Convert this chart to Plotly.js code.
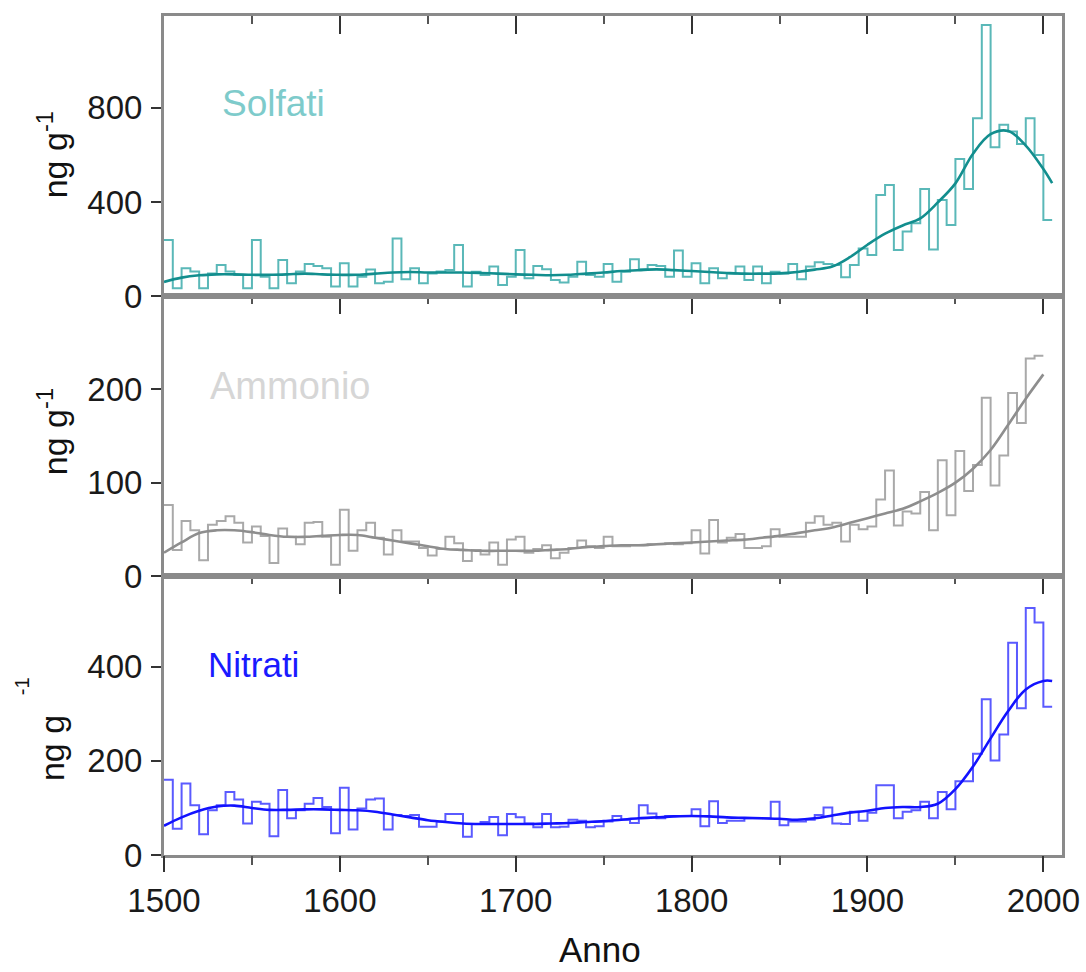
<!DOCTYPE html>
<html>
<head>
<meta charset="utf-8">
<script src="https://cdn.plot.ly/plotly-3.0.1.min.js"></script>
<style>html,body{margin:0;padding:0;background:#fff;}#chart{width:1086px;height:972px;}</style>
</head>
<body>
<div id="chart"></div>
<script>
// 5-year bins starting in 1500
const binStart = 1500;
const binWidth = 5;

const solfati = [
  238, 33, 118, 104, 33, 96, 132, 104, 89, 33,
  238, 82, 33, 153, 54, 104, 136, 128, 118, 40,
  139, 40, 82, 113, 54, 61, 245, 71, 118, 54,
  96, 104, 111, 217, 40, 103, 89, 125, 47, 82,
  196, 75, 128, 114, 68, 57, 82, 146, 89, 82,
  136, 61, 103, 156, 114, 132, 128, 82, 193, 82,
  139, 54, 118, 75, 96, 125, 68, 125, 54, 103,
  96, 136, 71, 125, 143, 136, 132, 80, 132, 202,
  174, 430, 472, 196, 274, 309, 455, 198, 408, 302,
  583, 455, 756, 1153, 633, 728, 700, 647, 756, 600,
  323
];

const ammonio = [
  76, 28, 59, 49, 17, 55, 59, 64, 57, 36,
  53, 43, 14, 51, 42, 34, 57, 58, 42, 12,
  71, 27, 49, 57, 41, 23, 49, 37, 37, 30,
  22, 29, 42, 35, 16, 28, 23, 36, 12, 39,
  42, 25, 29, 33, 19, 25, 30, 38, 32, 30,
  42, 32, 32, 33, 33, 34, 34, 35, 34, 35,
  49, 24, 60, 36, 41, 45, 30, 30, 32, 50,
  42, 42, 42, 57, 64, 55, 57, 37, 55, 50,
  53, 82, 113, 54, 69, 67, 90, 49, 124, 65,
  134, 91, 119, 191, 97, 129, 196, 164, 233, 236
];

const nitrati = [
  160, 56, 152, 106, 44, 95, 106, 134, 118, 67,
  113, 109, 40, 138, 78, 95, 109, 121, 102, 46,
  143, 54, 99, 118, 120, 54, 85, 83, 85, 60,
  60, 71, 87, 87, 39, 66, 70, 81, 42, 87,
  80, 67, 59, 87, 59, 60, 75, 73, 59, 61,
  71, 83, 75, 68, 106, 88, 78, 83, 83, 83,
  97, 61, 114, 68, 73, 73, 78, 78, 78, 113,
  63, 71, 71, 75, 85, 101, 67, 66, 92, 73,
  90, 148, 148, 78, 92, 95, 113, 78, 134, 97,
  157, 157, 215, 331, 201, 256, 451, 312, 525, 494,
  315
];

// smoothed curves
const smoothYears = [1500,1510,1520,1530,1540,1550,1560,1570,1580,1590,
  1600,1610,1620,1630,1640,1650,1660,1670,1680,1690,
  1700,1710,1720,1730,1740,1750,1760,1770,1780,1790,
  1800,1810,1820,1830,1840,1850,1860,1870,1880,1890,
  1900,1910,1920,1930,1940,1950,1960,1970,1980,1990,2000,2005];

const solfatiSmooth = [60, 78, 88, 92, 92, 90, 90, 92, 95, 92,
  90, 90, 95, 100, 102, 100, 100, 100, 98, 95,
  92, 90, 88, 90, 95, 100, 106, 110, 113, 110,
  106, 102, 98, 95, 95, 96, 102, 112, 125, 165,
  218, 265, 300, 330, 398, 479, 605, 688, 702, 640, 540, 480];

const ammonioSmooth = [25, 36, 46, 49, 49, 47, 44, 42, 42, 43,
  44, 44, 41, 38, 35, 32, 29, 28, 27, 27,
  27, 27, 28, 29, 31, 32, 33, 33, 34, 35,
  36, 37, 38, 39, 41, 43, 46, 49, 52, 57,
  62, 67, 72, 80, 89, 100, 115, 135, 162, 190, 216];

const nitratiSmooth = [62, 80, 94, 103, 105, 100, 96, 96, 97, 97,
  96, 95, 92, 86, 80, 74, 70, 67, 66, 66,
  66, 66, 67, 68, 70, 72, 75, 78, 80, 82,
  83, 82, 80, 79, 78, 77, 75, 78, 84, 90,
  94, 100, 102, 102, 109, 140, 188, 248, 306, 352, 370, 370];

const xTickVals = [1500, 1600, 1700, 1800, 1900, 2000];
const xTickText = ['1500', '1600', '1700', '1800', '1900', '2000'];

function stepXY(vals) {
  const x = [], y = [];
  vals.forEach((v, i) => { x.push(binStart + binWidth * i); y.push(v); });
  x.push(binStart + binWidth * vals.length);
  y.push(vals[vals.length - 1]);
  return {x, y};
}

const S = stepXY(solfati), A = stepXY(ammonio), N = stepXY(nitrati);

const traces = [
  {x: N.x, y: N.y, xaxis: 'x', yaxis: 'y', mode: 'lines', line: {shape: 'hv', color: '#5a5aff', width: 2}},
  {x: smoothYears, y: nitratiSmooth, xaxis: 'x', yaxis: 'y', mode: 'lines', line: {shape: 'spline', smoothing: 1, color: '#1212ff', width: 2.6}},
  {x: A.x, y: A.y, xaxis: 'x2', yaxis: 'y2', mode: 'lines', line: {shape: 'hv', color: '#a9a9a9', width: 2}},
  {x: smoothYears.slice(0, ammonioSmooth.length), y: ammonioSmooth, xaxis: 'x2', yaxis: 'y2', mode: 'lines', line: {shape: 'spline', smoothing: 1, color: '#8e8e8e', width: 2.6}},
  {x: S.x, y: S.y, xaxis: 'x3', yaxis: 'y3', mode: 'lines', line: {shape: 'hv', color: '#5ab8b8', width: 2}},
  {x: smoothYears, y: solfatiSmooth, xaxis: 'x3', yaxis: 'y3', mode: 'lines', line: {shape: 'spline', smoothing: 1, color: '#128e8e', width: 2.6}},
  // invisible trace so the bottom labelled axis is drawn
  {x: [1500], y: [0], xaxis: 'x4', yaxis: 'y', mode: 'markers', marker: {opacity: 0}}
];

const xRange = [1500, 2010.6];
const frame = {showline: true, linecolor: '#8a8a8a', linewidth: 3, mirror: true, showgrid: false, zeroline: false};
const fontTick = {family: 'Arial, "Liberation Sans", sans-serif', size: 33, color: '#1a1a1a'};

function topX(anchor) {
  return Object.assign({}, frame, {
    anchor: anchor, side: 'top', range: xRange, tickvals: xTickVals,
    ticks: 'inside', ticklen: 18, tickwidth: 2, tickcolor: '#333',
    showticklabels: false,
    minor: {dtick: 50, tick0: 1500, ticks: 'inside', ticklen: 8, tickwidth: 2, tickcolor: '#555'}
  });
}
function yAx(domain, range, vals) {
  return Object.assign({}, frame, {
    domain: domain, range: range, tickvals: vals, ticktext: vals.map(String),
    ticks: 'outside', ticklen: 10, tickwidth: 2, tickcolor: '#333',
    tickfont: fontTick, ticklabelstandoff: 2
  });
}

const lblFont = (c, s) => ({family: 'Arial, "Liberation Sans", sans-serif', size: s, color: c});
const paperAnn = (text, x, y, angle, font) => ({
  text: text, xref: 'paper', yref: 'paper', x: x, y: y, textangle: angle,
  xanchor: 'center', yanchor: 'middle', showarrow: false, font: font
});

const layout = {
  width: 1086, height: 972,
  margin: {l: 164, r: 24, t: 16, b: 117},
  paper_bgcolor: '#fff', plot_bgcolor: '#fff',
  showlegend: false,
  xaxis: topX('y'),
  xaxis2: topX('y2'),
  xaxis3: topX('y3'),
  xaxis4: {
    overlaying: 'x', anchor: 'y', side: 'bottom', range: xRange,
    tickvals: xTickVals, ticktext: xTickText,
    ticks: 'outside', ticklen: 16, tickwidth: 2, tickcolor: '#333',
    showline: false, showgrid: false, zeroline: false,
    tickfont: fontTick,
    minor: {dtick: 50, tick0: 1500, ticks: 'outside', ticklen: 9, tickwidth: 2, tickcolor: '#555'}
  },
  yaxis: yAx([0, 0.3325], [0, 593], [0, 200, 400]),
  yaxis2: yAx([0.3325, 0.6663], [0, 300], [0, 100, 200]),
  yaxis3: yAx([0.6663, 1], [0, 1191], [0, 400, 800]),
  annotations: [
    {text: 'Solfati', xref: 'x3', yref: 'y3', x: 1562.5, y: 817, xanchor: 'center', yanchor: 'middle', showarrow: false, font: lblFont('#7ecbcb', 37)},
    {text: 'Ammonio', xref: 'x2', yref: 'y2', x: 1572, y: 204, xanchor: 'center', yanchor: 'middle', showarrow: false, font: lblFont('#d6d6d6', 38)},
    {text: 'Nitrati', xref: 'x', yref: 'y', x: 1551, y: 406, xanchor: 'center', yanchor: 'middle', showarrow: false, font: lblFont('#1a1aff', 35)},
    paperAnn('ng g<sup>-1</sup>', -0.1247, 0.834, -90, lblFont('#111', 34)),
    paperAnn('ng g<sup>-1</sup>', -0.1247, 0.504, -90, lblFont('#111', 34)),
    paperAnn('ng g', -0.1247, 0.1275, -90, lblFont('#111', 34)),
    paperAnn('-1', -0.158, 0.2014, -90, lblFont('#111', 20)),
    paperAnn('Anno', 0.4855, -0.1125, 0, lblFont('#111', 35))
  ]
};

Plotly.newPlot('chart', traces, layout, {displayModeBar: false, staticPlot: true});
</script>
</body>
</html>
